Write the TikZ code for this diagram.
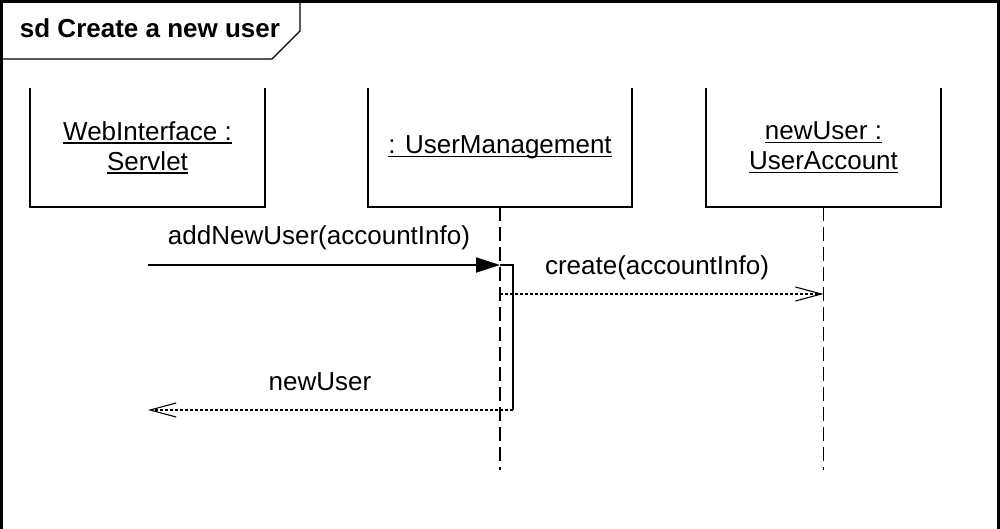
\documentclass[tikz,border=0pt]{standalone}
\usepackage{fontspec}
\setmainfont{Liberation Sans}
\usetikzlibrary{arrows.meta}
\newcommand\ulbox[1]{\setbox0\hbox{#1}\rlap{\rule[-3.5pt]{\wd0}{1.6pt}}\box0}
\begin{document}
\begin{tikzpicture}[x=1pt,y=-1pt,
  lbl/.style={font=\fontsize{26}{30}\selectfont, inner sep=0pt},
  objbox/.style={draw=none, minimum width=#1, minimum height=119pt, inner sep=0pt, align=center, font=\fontsize{26}{30}\selectfont},
  edge/.style={line width=1.6pt},
  lifeline/.style={line width=1.3pt, dash pattern=on 14pt off 6pt},
  msgsync/.style={line width=2pt, -{Triangle[length=24pt,width=15pt]}},
  msgasync/.style={line width=1.1pt, dash pattern=on 3pt off 2pt, -{Straight Barb[length=26pt,width=14pt,line width=1.1pt]}},
  act/.style={line width=1.6pt}]
\useasboundingbox (0,0) rectangle (1000,529);
% frame
\coordinate (fbl) at (1.5,529);
\coordinate (ftl) at (1.5,1.5);
\coordinate (ftr) at (998.5,1.5);
\coordinate (fbr) at (998.5,529);
\draw[line width=2.2pt] (fbl) -- (ftl) -- (ftr) -- (fbr);
\coordinate (t1) at (1.5,59);
\coordinate (t2) at (272,59);
\coordinate (t3) at (300,31);
\coordinate (t4) at (300,1.5);
\draw[line width=1.4pt] (t1) -- (t2) -- (t3) -- (t4);
\node[lbl, font=\fontsize{26}{30}\selectfont\bfseries, anchor=base] (title) at (150,38) {sd Create a new user};
% object boxes
\node[objbox=235pt] (b1) at (147.5,147.5) {\ulbox{WebInterface :}\\\ulbox{Servlet}};
\node[objbox=264pt] (b2) at (500,147.5) {\ulbox{: UserManagement}};
\node[objbox=235pt] (b3) at (823.5,147.5) {\ulbox{newUser :}\\\ulbox{UserAccount}};
\foreach \b in {b1,b2,b3}
  \draw[edge] (\b.north west) -- (\b.south west) -- (\b.south east) -- (\b.north east);
% lifelines
\coordinate (l2e) at (500,470);
\coordinate (l3e) at (823.5,470);
\draw[lifeline] (b2.south) -- (l2e);
\draw[lifeline] (b3.south) -- (l3e);
% messages
\coordinate (m1s) at (148,265);
\coordinate (m1e) at (500,265);
\coordinate (a1) at (513,265);
\coordinate (a2) at (513,410);
\coordinate (m2s) at (500,294);
\coordinate (m2e) at (823.5,294);
\coordinate (r1) at (148,410);
\draw[msgsync] (m1s) -- (m1e);
\draw[act] (m1e) -- (a1) -- (a2);
\draw[msgasync] (m2s) -- (m2e);
\draw[msgasync] (a2) -- (r1);
\node[lbl, anchor=base] (lab1) at (319,244) {addNewUser(accountInfo)};
\node[lbl, anchor=base] (lab2) at (657,274) {create(accountInfo)};
\node[lbl, anchor=base] (lab3) at (320,390) {newUser};
\end{tikzpicture}
\end{document}
